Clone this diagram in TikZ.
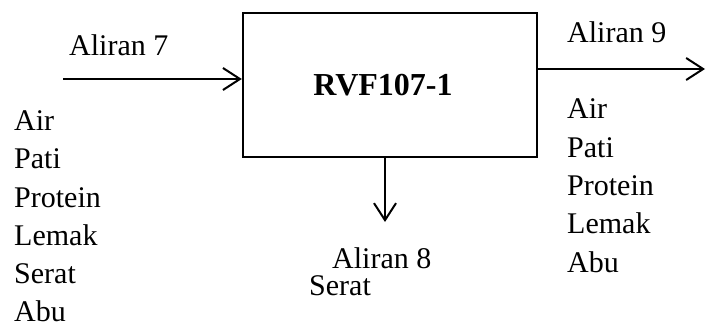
\documentclass[tikz,border=0pt]{standalone}
\usepackage{fontspec}
\setmainfont{Liberation Serif}
\usetikzlibrary{arrows.meta}
\begin{document}
\begin{tikzpicture}[x=1pt,y=-1pt,
  txt/.style={inner sep=0pt,anchor=base west,font=\fontsize{30}{36}\selectfont},
  flow/.style={line width=2pt,-{Straight Barb[length=17pt,width=22pt,line width=2pt]}},
  unit/.style={draw,line width=2.4pt,minimum width=294pt,minimum height=144pt,inner sep=0pt}]
\useasboundingbox (0,0) rectangle (706,327);
\node[unit] (box) at (390,85) {};
\node[inner sep=0pt,font=\fontsize{32}{36}\selectfont\bfseries] (lbl) at (383,85) {RVF107-1};
\coordinate (in7) at (63,79);
\coordinate (out9) at (705,69);
\coordinate (out8) at (385,222);
\draw[flow] (in7) -- (box.west |- in7);
\draw[flow] (box.east |- out9) -- (out9);
\draw[flow] (box.south -| out8) -- (out8);
\node[txt] (a7) at (69,55) {Aliran 7};
\node[txt] (a9) at (567,42) {Aliran 9};
\node[txt] (a8) at (332,268) {Aliran 8};
\node[txt] (s8) at (309,295) {Serat};
\node[txt] (l1) at (14,130) {Air};
\node[txt] (l2) at (14,168) {Pati};
\node[txt] (l3) at (14,207) {Protein};
\node[txt] (l4) at (14,245) {Lemak};
\node[txt] (l5) at (14,283) {Serat};
\node[txt] (l6) at (14,321) {Abu};
\node[txt] (r1) at (567,118) {Air};
\node[txt] (r2) at (567,157) {Pati};
\node[txt] (r3) at (567,195) {Protein};
\node[txt] (r4) at (567,233) {Lemak};
\node[txt] (r5) at (567,272) {Abu};
\end{tikzpicture}
\end{document}
